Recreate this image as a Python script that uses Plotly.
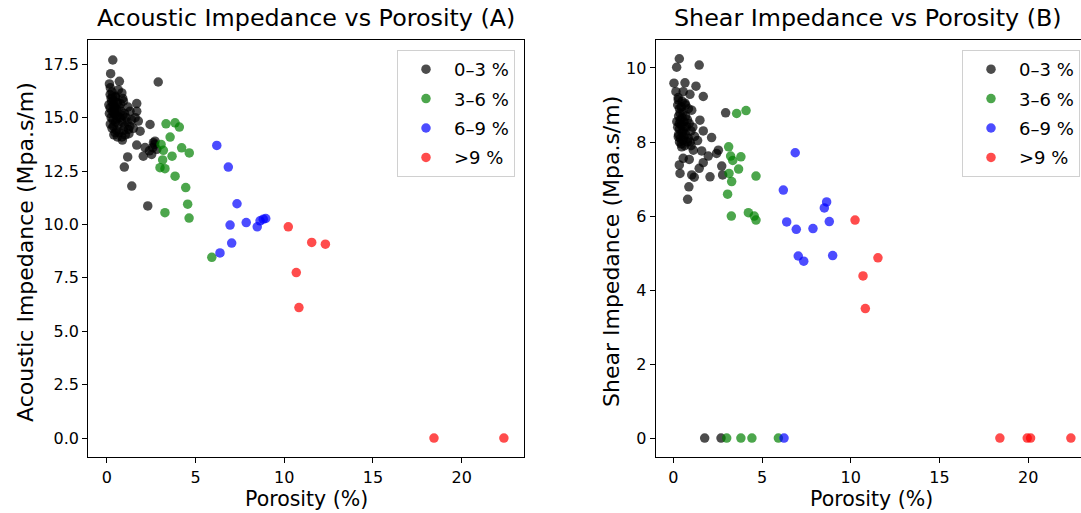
import plotly.graph_objects as go

W, H = 1081, 513

# ---------------- data: panel A (acoustic impedance) ----------------
a_black_por = [0.34, 0.22, 2.9, 0.71, 0.15, 0.85, 0.19, 0.94, 1.69, 0.19, 1.69, 1.31, 0.47, 1.78,
               2.44, 0.37, 1.22, 1.88, 0.47, 0.88, 1.69, 2.63, 2.16, 2.06, 2.53, 2.82, 1.18, 0.99,
               1.41, 2.31, 2.72, 2.4, 2.6, 2.7,
               0.2, 0.3, 0.25, 0.4, 0.5, 0.6, 0.35, 0.45, 0.55, 0.7, 0.8, 0.3, 0.4, 0.6, 0.75, 0.9,
               1.0, 1.1, 0.25, 0.35, 0.5, 0.65, 0.85, 1.0, 1.15, 0.3, 0.55, 0.7, 0.95, 1.3, 0.4,
               0.6, 1.05, 1.4, 0.5, 0.65, 0.28, 0.42, 0.58, 0.78, 0.9, 1.2, 0.15, 0.2, 0.85, 1.25,
               1.5, 1.6, 0.33, 0.12]
a_black_ai = [17.70, 17.06, 16.67, 16.7, 16.58, 16.16, 16.08, 15.77, 15.66, 15.46, 15.3, 15.3, 15.15, 14.84,
              14.68, 14.6, 14.45, 14.37, 14.3, 13.95, 13.72, 13.83, 13.6, 13.2, 13.28, 13.52, 13.16, 12.69,
              11.8, 10.87, 13.9, 13.45, 13.6, 13.75,
              16.4, 16.2, 15.9, 15.8, 16.0, 15.7, 15.6, 15.5, 15.4, 15.5, 15.3, 15.3, 15.2, 15.1, 15.0, 15.1,
              15.2, 15.0, 15.0, 14.9, 14.8, 14.7, 14.8, 14.6, 14.8, 14.5, 14.4, 14.3, 14.4, 14.6, 14.2,
              14.1, 14.2, 14.9, 15.95, 16.3, 15.75, 15.35, 14.95, 15.65, 15.9, 15.5, 15.2, 14.7, 14.1, 14.25,
              14.5, 15.0, 16.0, 15.6]

a_green_por = [3.34, 3.85, 4.09, 3.57, 3.06, 3.19, 4.22, 4.65, 3.68, 3.15, 3.0, 3.28, 3.85, 4.45,
               4.56, 3.28, 4.64, 5.92]
a_green_ai = [14.71, 14.76, 14.56, 14.09, 13.75, 13.47, 13.59, 13.35, 13.2, 13.02, 12.66, 12.61, 12.26,
              11.73, 10.95, 10.55, 10.3, 8.46]

a_blue_por = [6.2, 6.85, 7.34, 6.95, 7.86, 8.48, 8.64, 8.96, 8.82, 7.04, 6.38]
a_blue_ai = [13.7, 12.69, 10.97, 9.97, 10.09, 9.89, 10.17, 10.28, 10.25, 9.13, 8.67]

a_red_por = [10.23, 11.55, 12.32, 10.68, 10.83, 18.44, 22.38]
a_red_ai = [9.89, 9.16, 9.08, 7.75, 6.11, 0.0, 0.0]

# ---------------- data: panel B (shear impedance) ----------------
b_black_por = [0.34, 0.19, 1.46, 0.04, 0.66, 1.28, 0.15, 0.56, 0.94, 1.69, 0.28, 0.66, 1.04, 2.95,
               0.38, 1.5, 0.34, 0.75, 1.69, 0.28, 2.16, 0.85, 1.37, 0.47, 1.13, 1.6, 2.54, 2.44,
               1.97, 0.56, 0.9, 1.69, 2.73, 0.34, 1.46, 0.38, 1.04, 2.07, 2.78, 1.18, 0.88, 0.81,
               0.25, 0.35, 0.45, 0.55, 0.3, 0.4, 0.5, 0.6, 0.7, 0.8, 0.25, 0.35, 0.45, 0.55, 0.65,
               0.3, 0.4, 0.5, 0.6, 0.7, 0.9, 1.0, 0.35, 0.45, 0.55, 0.65, 0.8, 0.28, 0.5, 0.7,
               0.85, 0.2, 0.95, 1.1, 1.2, 1.0, 1.77, 2.69]
b_black_si = [10.25, 10.02, 10.08, 9.59, 9.6, 9.51, 9.36, 9.36, 9.29, 9.23, 9.14, 9.05, 8.86, 8.79,
              8.78, 8.59, 8.5, 8.41, 8.3, 8.14, 8.12, 8.1, 8.04, 7.87, 7.78, 7.76, 7.78, 7.69,
              7.62, 7.56, 7.53, 7.44, 7.35, 7.38, 7.29, 7.15, 7.11, 7.06, 7.11, 7.05, 6.79, 6.45,
              9.0, 8.9, 8.95, 8.8, 8.7, 8.6, 8.65, 8.55, 8.7, 8.6, 8.4, 8.35, 8.45, 8.3, 8.4,
              8.2, 8.1, 8.25, 8.15, 8.2, 8.5, 8.3, 8.0, 7.95, 8.05, 7.9, 8.0, 9.2, 9.1, 9.0,
              8.9, 8.55, 8.0, 8.4, 8.15, 7.9, 0.0, 0.0]

b_green_por = [3.57, 4.1, 3.12, 3.23, 3.81, 3.35, 3.68, 4.66, 3.14, 3.29, 3.06, 3.27, 4.23, 4.56,
               4.66, 3.01, 3.81, 4.43, 5.92]
b_green_si = [8.77, 8.85, 7.87, 7.62, 7.6, 7.5, 7.27, 7.08, 7.15, 6.93, 6.59, 6.0, 6.09, 6.0,
              5.89, 0.0, 0.0, 0.0, 0.0]

b_blue_por = [6.87, 6.2, 8.64, 8.51, 6.39, 8.79, 6.93, 7.87, 7.04, 7.35, 8.98, 6.24]
b_blue_si = [7.71, 6.7, 6.38, 6.22, 5.84, 5.85, 5.64, 5.66, 4.92, 4.78, 4.93, 0.0]

b_red_por = [10.24, 11.53, 10.69, 10.82, 18.4, 19.94, 20.13, 22.4]
b_red_si = [5.89, 4.87, 4.38, 3.5, 0.0, 0.0, 0.0, 0.0]

class_names = ["0\u20133 %", "3\u20136 %", "6\u20139 %", ">9 %"]
class_colors = ["black", "green", "blue", "red"]

panel_a = [(a_black_por, a_black_ai), (a_green_por, a_green_ai), (a_blue_por, a_blue_ai), (a_red_por, a_red_ai)]
panel_b = [(b_black_por, b_black_si), (b_green_por, b_green_si), (b_blue_por, b_blue_si), (b_red_por, b_red_si)]

FONT = "DejaVu Sans"


def px(x):
    return x / W


def py(y):
    return (H - y) / H


fig = go.Figure()
for i, (xs, ys) in enumerate(panel_a):
    fig.add_trace(go.Scatter(
        x=xs, y=ys, mode="markers", name=class_names[i], xaxis="x", yaxis="y",
        marker=dict(color=class_colors[i], size=9.5, opacity=0.7, line=dict(width=0)),
        legend="legend", legendgroup="a%d" % i))
for i, (xs, ys) in enumerate(panel_b):
    fig.add_trace(go.Scatter(
        x=xs, y=ys, mode="markers", name=class_names[i], xaxis="x2", yaxis="y2",
        marker=dict(color=class_colors[i], size=9.5, opacity=0.7, line=dict(width=0)),
        legend="legend2", legendgroup="b%d" % i))

ax_common = dict(showgrid=False, zeroline=False, showline=True, mirror=True, linecolor="black",
                 linewidth=1.2, ticks="outside", ticklen=5, tickwidth=1.2, tickcolor="black",
                 tickfont=dict(family=FONT, size=16, color="black"), automargin=False)

ydom = [py(457.3), py(39.5)]

legend_common = dict(xanchor="right", y=py(50), yanchor="top",
                     bgcolor="white", bordercolor="#d0d0d0", borderwidth=1,
                     font=dict(family=FONT, size=18, color="black"), tracegroupgap=3,
                     itemwidth=46)

fig.update_layout(
    width=W, height=H,
    margin=dict(l=0, r=0, t=0, b=0),
    paper_bgcolor="white", plot_bgcolor="white",
    font=dict(family=FONT, color="black"),
    xaxis=dict(domain=[px(88.3), px(524.3)], range=[-1.04, 23.53], tickvals=[0, 5, 10, 15, 20],
               anchor="y", **ax_common),
    yaxis=dict(domain=ydom, range=[-0.9, 18.66], tickvals=[0, 2.5, 5, 7.5, 10, 12.5, 15, 17.5],
               ticktext=["0.0", "2.5", "5.0", "7.5", "10.0", "12.5", "15.0", "17.5"],
               anchor="x", **ax_common),
    xaxis2=dict(domain=[px(655.7), 1.0], range=[-0.99, 22.97], tickvals=[0, 5, 10, 15, 20],
                anchor="y2", **ax_common),
    yaxis2=dict(domain=ydom, range=[-0.52, 10.77], tickvals=[0, 2, 4, 6, 8, 10],
                anchor="x2", **ax_common),
    legend=dict(x=px(515), **legend_common),
    legend2=dict(x=px(1080), **legend_common),
    showlegend=True,
)

annots = [
    dict(text="Acoustic Impedance vs Porosity (A)", x=px(306.3), y=py(18), size=23.8, angle=0),
    dict(text="Shear Impedance vs Porosity (B)", x=px(868), y=py(18), size=23.8, angle=0),
    dict(text="Porosity (%)", x=px(306.3), y=py(499), size=20.5, angle=0),
    dict(text="Porosity (%)", x=px(871), y=py(499), size=20.5, angle=0),
    dict(text="Acoustic Impedance (Mpa.s/m)", x=px(25), y=py(252), size=22, angle=-90),
    dict(text="Shear Impedance (Mpa.s/m)", x=px(611), y=py(252), size=22, angle=-90),
]
for a in annots:
    fig.add_annotation(text=a["text"], x=a["x"], y=a["y"], xref="paper", yref="paper",
                       xanchor="center", yanchor="middle", showarrow=False, textangle=a["angle"],
                       font=dict(family=FONT, size=a["size"], color="black"))

fig.write_html("out.html")
